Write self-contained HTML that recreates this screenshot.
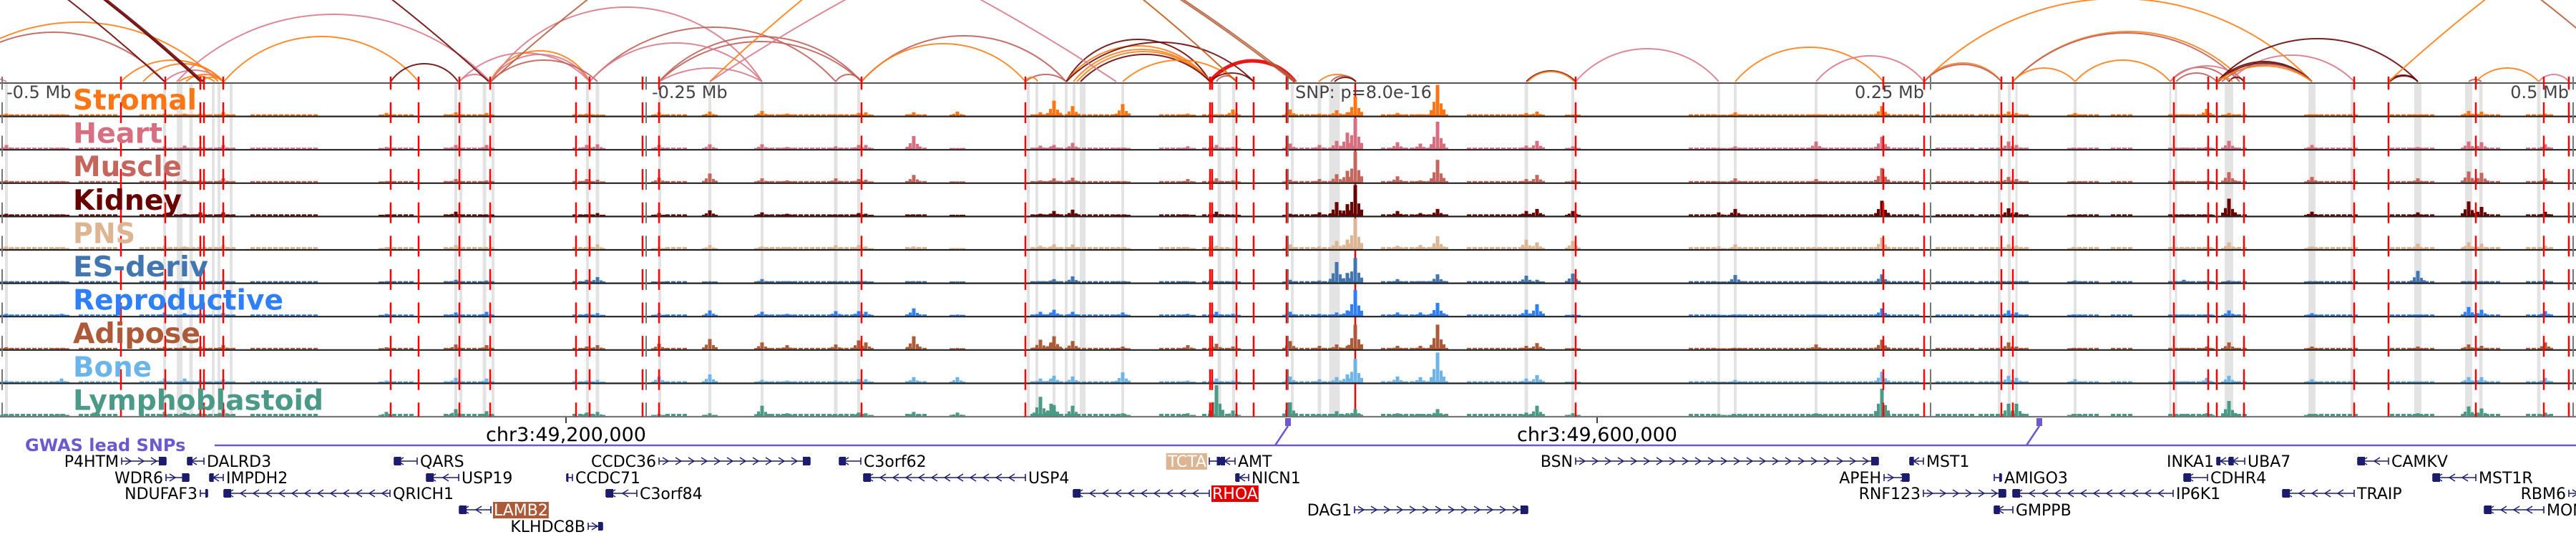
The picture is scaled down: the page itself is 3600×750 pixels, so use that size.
<!DOCTYPE html>
<html><head><meta charset="utf-8"><style>
html,body{margin:0;padding:0;background:#fff;}
svg{display:block;}
</style></head><body>
<svg id="chart" xmlns="http://www.w3.org/2000/svg" width="3600" height="750" viewBox="0 0 3600 750"></svg>
<script>
// ---------- data ----------
const tissues = ["Stromal","Heart","Muscle","Kidney","PNS","ES-deriv","Reproductive","Adipose","Bone","Lymphoblastoid"];
const tissueColors = ["#ff7514","#d86f80","#c5655c","#690000","#ddb592","#4276b0","#2f80f7","#ad5a38","#6db4e8","#4a9a87"];
const tissueLabelLen = [173,125,152,152,87,189,294,178,110,350];
const tickLabels = ["-0.5 Mb","-0.25 Mb","SNP: p=8.0e-16","0.25 Mb","0.5 Mb"];
const tickPos = [9,911,1810,2689,3590];
const tickAnchor = ["start","start","start","end","end"];
const refLines = [3,903,1800,2698,3596];
const peakPos = [9,86,230,258,280,312,540,637,680,820,835,921,992,1065,1100,1168,1200,1210,1277,1338,1454,1469,1473,1499,1569,1660,1700,1723,1803,1844,1868,1883,1894,1953,1985,2009,2133,2148,2198,2402,2425,2538,2630,2807,2818,2900,3052,3084,3115,3231,3379,3450,3468,3557];
const sigStromal = [3,2,3,3,3,5,4,5,4,3,2,5,6,7,3,1,4,5,5,6,5,4,22,14,17,3,2,9,9,3,8,5,28,4,2,45,4,6,2,1,5,2,14,6,4,4,2,10,4,2,1,7,6,3];
const sigHeart = [6,2,4,5,3,6,3,6,6,6,7,6,7,7,3,4,6,6,19,1,5,4,6,9,2,4,6,3,8,6,12,24,45,10,8,40,5,12,4,2,4,11,18,11,6,1,2,3,12,6,3,11,10,7];
const sigMuscle = [3,2,3,4,3,6,2,5,3,5,4,7,13,6,3,6,5,4,11,1,3,3,6,7,1,5,6,3,4,5,12,17,45,9,3,33,5,11,3,2,6,5,21,8,5,1,1,2,15,8,6,16,14,6];
const sigKidney = [3,2,3,3,5,5,2,6,2,2,4,4,8,5,3,2,4,3,2,1,3,3,7,9,1,2,6,2,3,5,20,17,45,7,4,10,7,10,7,5,10,2,22,11,5,1,1,1,25,6,5,21,13,6];
const sigPNS = [4,3,5,4,3,6,3,6,2,3,7,3,6,4,3,6,6,4,4,1,5,4,7,7,2,3,5,2,7,4,12,14,45,5,6,19,14,10,12,4,7,2,17,7,5,2,2,2,10,4,8,10,8,5];
const sigES = [2,2,3,2,2,3,2,4,3,4,8,1,2,5,2,1,2,2,1,1,2,3,5,9,2,2,2,2,4,3,30,14,36,5,2,12,10,4,13,1,11,2,12,2,2,3,4,1,3,1,17,2,1,3];
const sigRepro = [3,3,5,4,3,4,3,5,6,3,4,4,8,6,3,7,7,6,11,2,6,5,9,6,5,3,6,3,6,3,5,8,38,5,5,19,9,17,2,2,2,2,11,8,5,2,2,2,8,4,2,13,9,7];
const sigAdipose = [3,2,4,5,4,6,3,7,6,4,6,8,15,10,6,7,13,10,19,2,14,10,19,12,4,6,8,4,12,5,7,5,36,5,5,36,5,9,2,1,2,7,14,10,4,2,2,4,10,4,4,7,5,10];
const sigBone = [3,6,6,6,3,5,3,7,6,3,4,9,12,4,3,3,5,5,8,8,6,6,10,9,15,3,6,3,9,5,8,12,35,9,8,44,6,11,2,1,4,2,16,10,7,5,2,7,10,5,2,8,8,7];
const sigLympho = [3,3,6,5,4,10,6,10,7,5,6,3,4,15,4,2,5,4,6,5,28,18,16,15,4,4,45,8,20,3,7,4,10,4,3,10,5,15,4,3,2,4,40,18,18,3,3,4,22,3,4,14,11,5];
const bgStart = [5,110,195,350,540,620,800,930,1060,1265,1440,1620,1680,1800,1930,2050,2360,2420,2705,2765,2895,2950,3030,3110,3225,3340,3440,3530];
const bgEnd =   [90,160,330,440,580,690,830,960,1210,1290,1570,1660,1720,1900,2020,2150,2400,2680,2760,2830,2935,2980,3090,3140,3290,3400,3490,3570];
const bgLevel = [2,2,2,2,3,2,2,2,2,3];
const redLines = [169,231,280,285,312,546,585,642,685,805,824,898,921,1204,1433,1691,1694,1728,1752,1798,2202,2632,2689,2797,2813,3038,3086,3098,3136,3290,3338,3460,3555,3590];
const snpPos = 1894;
const bandPos = [9,230,251,267,298,306,323,637,644,677,689,821,835,922,992,1065,1168,1200,1437,1449,1473,1490,1501,1513,1569,1704,1724,1806,1844,1865,2133,2198,2402,2425,2538,2794,2808,2818,2900,3033,3041,3115,3231,3287,3379,3450,3467,3548];
const bandW   = [4,4,8,5,4,4,4,4,4,5,4,4,5,4,4,4,5,4,4,4,4,4,4,8,4,5,4,4,5,15,5,4,4,4,4,4,4,3,4,3,3,12,10,4,10,10,5,5];
// arcs: start, end, height (sagitta), color key
const arcStart = [-87,-80,247,313,169,200,230,250,260,280,546,642,685,685,685,642,686,824,921,921,824,921,1168,1204,1204,1433,1433,1490,1490,1500,1505,1510,1490,1569,1691,1691,1700,1843,1860,1865,2133,2135,2202,2425,2538,2689,2689,2689,2813,2813,2813,2900,3033,3041,3033,3098,3115,3098,3100,3105,3098,3115,3098,3338,3340,3450,3460,3548,-30,
 -2770,-2720,-2719,-2716,-2317,686,992,992,-1272,-1440,-1192,-1188,3338];
const arcEnd   = [305,230,685,585,313,312,312,300,312,312,640,824,824,824,835,685,1065,1168,1204,1204,1065,1065,1204,1490,1433,1490,1450,1691,1691,1691,1691,1691,1752,1728,1810,1752,1728,1895,1895,1895,2202,2200,2402,2632,2689,3231,2797,2797,3136,3130,2900,3033,3115,3098,3136,3379,3290,3231,3231,3231,3231,3136,3120,3379,3379,3468,3548,3590,9,
 230,280,281,284,683,3686,3992,3992,1728,1560,1808,1812,6338];
const arcH     = [83,69,94,63,30,25,16,8,10,6,25,40,43,38,30,10,104,76,56,63,54,19,10,64,53,10,6,59,50,45,42,38,55,30,29,12,8,10,8,6,15,14,46,48,36,116,26,24,70,68,19,30,20,12,22,60,37,28,26,24,22,6,5,9,8,3,19,10,5,
 585,585,585,585,585,585,604,451,600,451,520,520,585];
const arcColor = ["St","Mu","He","St","St","St","He","St","St","St","Ki","He","St","He","Mu","He","He","Mu","Mu","Mu","He","He","Mu","Mu","St","Mu","St","Ki","St","St","St","Ki","Ki","St","Red","Ki","Mu","St","Mu","Ki","Ki","St","He","St","He","St","St","Mu","St","Mu","St","St","Mu","Mu","He","Ki","He","Ki","Ki","Mu","St","Ki","St","Ki","Ki","Mu","St","He","He",
 "Ki","Ki","Ki","Ki","Ki","Ad","St","He","Br","He","Ad","Ad","St"];
const arcPalette = {St:"#ff7f1a",He:"#d97a8a",Mu:"#c0605a",Ki:"#6b0a0a",Ad:"#b5603c",Br:"#c45a1a",Red:"#e40000"};
// genes
const geneNames = ["P4HTM","DALRD3","QARS","CCDC36","C3orf62","TCTA","AMT","BSN","MST1","INKA1","UBA7","CAMKV",
 "WDR6","IMPDH2","USP19","CCDC71","USP4","NICN1","APEH","AMIGO3","CDHR4","MST1R",
 "NDUFAF3","QRICH1","C3orf84","RHOA","RNF123","IP6K1","TRAIP","RBM6",
 "LAMB2","DAG1","GMPPB","MON1A","KLHDC8B"];
const geneStart = [170,262,551,921,1173,1690,1706,2202,2669,3098,3115,3295, 232,293,596,792,1207,1727,2633,2787,3052,3400, 280,313,847,1500,2688,2813,3190,3590, 642,1893,2787,3472,822];
const geneEnd   = [232,285,583,1132,1203,1705,1726,2625,2688,3115,3137,3338, 264,312,641,800,1433,1745,2668,2797,3085,3460, 290,545,890,1690,2803,3037,3290,3620, 686,2135,2813,3555,842];
const geneRow   = [0,0,0,0,0,0,0,0,0,0,0,0, 1,1,1,1,1,1,1,1,1,1, 2,2,2,2,2,2,2,2, 3,3,3,3,4];
const geneStrand= [1,-1,-1,1,-1,1,-1,1,-1,-1,-1,-1, 1,-1,-1,-1,-1,-1,1,1,-1,-1, 1,-1,-1,-1,1,-1,-1,1, -1,1,-1,-1,1];
const geneLabelSide = ["l","r","r","l","r","l","r","l","r","l","r","r", "l","r","r","r","r","r","l","r","r","r", "l","r","r","r","l","r","r","l", "r","l","r","r","l"];
const geneHighlight = {TCTA:"#dcb592",RHOA:"#e00000",LAMB2:"#ad5a38"};
const axisTicks = [791,2232];
const axisLabels = ["chr3:49,200,000","chr3:49,600,000"];
const gwasSnps = [1800,2850];

// ---------- layout ----------
const NS="http://www.w3.org/2000/svg";
const svg=document.getElementById('chart');
const W=3600, trackTop=116, trackH=46.6, nT=10, arcBase=114;
const xScale = v => v*W/3600;
const yTrackBottom = i => trackTop+(i+1)*trackH;
const hScale = v => v/45*43;
const sigs=[sigStromal,sigHeart,sigMuscle,sigKidney,sigPNS,sigES,sigRepro,sigAdipose,sigBone,sigLympho];
function el(tag,attrs,parent){const e=document.createElementNS(NS,tag);for(const k in attrs)e.setAttribute(k,attrs[k]);(parent||svg).appendChild(e);return e;}

// arcs
const gArcs=el('g',{});


for(let i=0;i<arcStart.length;i++){
  const x1=xScale(arcStart[i]),x2=xScale(arcEnd[i]),s=arcH[i];
  const c=(x2-x1)/2, R=(c*c+s*s)/(2*s);
  const p=el('path',{d:`M${x1},${arcBase} A${R},${R} 0 0 1 ${x2},${arcBase}`,fill:'none',stroke:arcPalette[arcColor[i]],'stroke-width':arcColor[i]==='Red'?5:2,'stroke-opacity':0.9},gArcs);
  
  
}
el('rect',{x:0,y:trackTop,width:W,height:trackH*nT,fill:'#fff'});

// gray bands
const gBands=el('g',{});


for(let i=0;i<bandPos.length;i++){
  const r=el('rect',{x:xScale(bandPos[i])-bandW[i]/2,y:trackTop,width:bandW[i],height:trackH*nT,fill:'#e3e3e3'},gBands);
  
  
}
// SNP solid line
const sl=el('line',{x1:xScale(snpPos),x2:xScale(snpPos),y1:trackTop,y2:trackTop+trackH*nT,stroke:'#ee0000','stroke-width':2.5});



// tracks
for(let t=0;t<nT;t++){
  const g=el('g',{});
  
  
  const base=yTrackBottom(t)-1;
  const col=tissueColors[t];
  for(let s=0;s<bgStart.length;s++){
    for(let x=bgStart[s];x<bgEnd[s];x+=8){
      const b=el('rect',{x:xScale(x),y:base-bgLevel[t],width:6,height:bgLevel[t],fill:col},g);
      
      
    }
  }
  const sig=sigs[t];
  for(let k=0;k<peakPos.length;k++){
    const h=hScale(sig[k]), cx=xScale(peakPos[k]);
    const parts=[[0,5,1],[-5,4,0.45],[5,4,0.4],[-9,4,0.18],[9,4,0.2]];
    for(const [dx,w,f] of parts){
      const hh=Math.max(1.5,h*f);
      const b=el('rect',{x:cx+dx-w/2,y:base-hh,width:w,height:hh,fill:col},g);
      
      
    }
  }
  const ln=el('line',{x1:0,x2:W,y1:yTrackBottom(t),y2:yTrackBottom(t),stroke:t===nT-1?'#777':'#222','stroke-width':2.2},g);
  
  
}
const topLine=el('line',{x1:0,x2:W,y1:trackTop,y2:trackTop,stroke:'#555','stroke-width':2});



// dashed lines
function dashedLine(x,color,w,name){
  const g=el('g',{});
  
  
  for(let k=0;k<=nT;k++){
    const y0=Math.max(107,96.3+k*trackH), y1=Math.min(trackTop+trackH*nT,96.3+k*trackH+29);
    if(y1>y0) el('line',{x1:x,x2:x,y1:y0,y2:y1,stroke:color,'stroke-width':w},g);
  }
}
for(const p of redLines) dashedLine(xScale(p),'#ff0000',2.5,'credible-snp-line');
for(const p of refLines) dashedLine(xScale(p),'#777',2,'reference-line');

// labels
for(let t=0;t<nT;t++){
  const tx=el('text',{x:102,y:trackTop+t*trackH+37,fill:tissueColors[t],'font-family':'"DejaVu Sans","Liberation Sans",sans-serif','font-weight':'bold','font-size':39,textLength:tissueLabelLen[t],lengthAdjust:'spacingAndGlyphs'});
  tx.textContent=tissues[t];
  
  
}
for(let i=0;i<tickLabels.length;i++){
  const tx=el('text',{x:xScale(tickPos[i]),y:137,fill:'#444','font-family':'"DejaVu Sans","Liberation Sans",sans-serif','font-size':24,'text-anchor':tickAnchor[i]});
  tx.textContent=tickLabels[i];
  
  
}
// chromosome axis
for(let i=0;i<axisTicks.length;i++){
  const x=xScale(axisTicks[i]);
  const l=el('line',{x1:x,x2:x,y1:583,y2:591,stroke:'#000','stroke-width':1.5});
  
  
  const tx=el('text',{x:x,y:616,fill:'#000','font-family':'"DejaVu Sans","Liberation Sans",sans-serif','font-size':27,'text-anchor':'middle'});
  tx.textContent=axisLabels[i];
  
  
}
// GWAS
const gw=el('text',{x:35,y:630,fill:'#6a5acd','font-family':'"DejaVu Sans","Liberation Sans",sans-serif','font-weight':'bold','font-size':24});
gw.textContent='GWAS lead SNPs';


let d=`M300,622`;
for(const s of gwasSnps){const x=xScale(s); d+=` L${x-18},622 L${x},595 L${x-18},622`;}
d+=` L${W},622`;
const gp=el('path',{d:d,fill:'none',stroke:'#6a5acd','stroke-width':2.5});


for(const s of gwasSnps){
  const r=el('rect',{x:xScale(s)-4,y:584,width:8,height:11,fill:'#6a5acd'});
  
  
}
// genes
const rowY=[644,667,689,712,735];
for(let i=0;i<geneNames.length;i++){
  const g=el('g',{});
  
  
  const x1=xScale(geneStart[i]),x2=xScale(geneEnd[i]),y=rowY[geneRow[i]],col='#1c1c6e';
  el('line',{x1:x1,x2:x2,y1:y,y2:y,stroke:col,'stroke-width':1.6},g);
  el('line',{x1:x1,x2:x1,y1:y-5,y2:y+5,stroke:col,'stroke-width':1.6},g);
  el('line',{x1:x2,x2:x2,y1:y-5,y2:y+5,stroke:col,'stroke-width':1.6},g);
  for(let x=x1+9;x<x2-6;x+=18){
    const s=geneStrand[i];
    el('path',{d:`M${x-4*s},${y-5} L${x+4*s},${y} L${x-4*s},${y+5}`,fill:'none',stroke:col,'stroke-width':1.4},g);
  }
  const ex = geneStrand[i]>0 ? x2-Math.min(10,(x2-x1)*0.3) : x1;
  el('rect',{x:ex,y:y-6,width:Math.min(10,(x2-x1)*0.3),height:12,fill:col},g);
  const left=geneLabelSide[i]==='l';
  const tx=left?x1-4:x2+4;
  const hl=geneHighlight[geneNames[i]];
  const t=el('text',{x:tx,y:y+8,fill:hl?'#fff':'#000','font-family':'"DejaVu Sans","Liberation Sans",sans-serif','font-size':22,'text-anchor':left?'end':'start'},g);
  t.textContent=geneNames[i];
  if(hl){
    const bb=t.getBBox();
    const r=el('rect',{x:bb.x-1,y:y-11,width:bb.width+2,height:23,fill:hl});
    g.insertBefore(r,t);
  }
}
</script>
</body></html>
